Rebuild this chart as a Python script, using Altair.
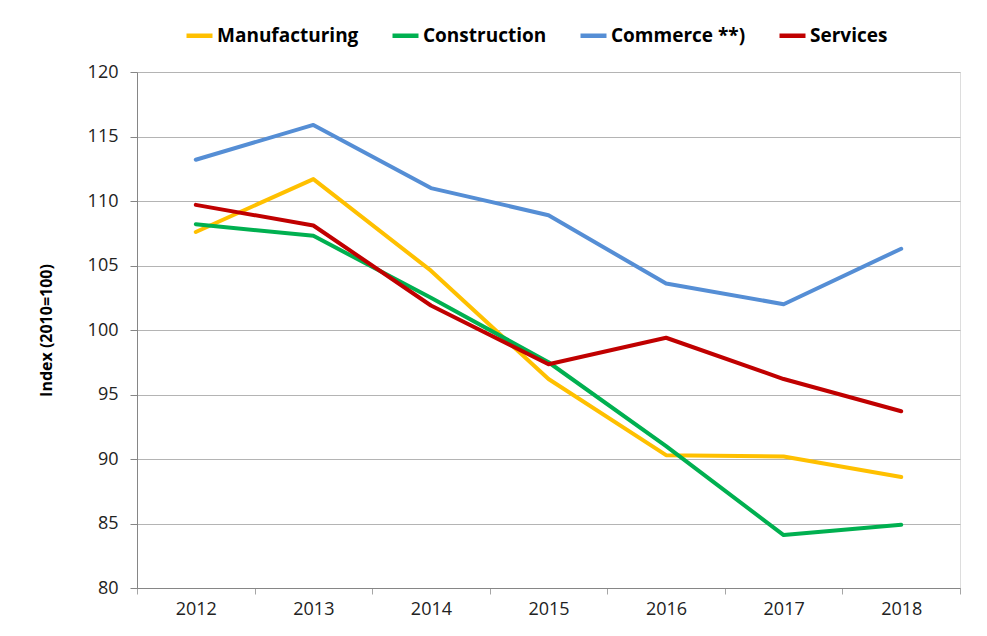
import altair as alt
import pandas as pd

years = ["2012", "2013", "2014", "2015", "2016", "2017", "2018"]
series_names = ["Manufacturing", "Construction", "Commerce **)", "Services"]
manufacturing = [107.6, 111.7, 104.6, 96.2, 90.3, 90.2, 88.6]
construction = [108.2, 107.3, 102.5, 97.5, 91.0, 84.1, 84.9]
commerce = [113.2, 115.9, 111.0, 108.9, 103.6, 102.0, 106.3]
services = [109.7, 108.1, 101.9, 97.35, 99.4, 96.2, 93.7]
colors = ["#FFC000", "#00B050", "#558ED5", "#C00000"]
y_ticks = [80, 85, 90, 95, 100, 105, 110, 115, 120]

rows = []
for name, vals in zip(series_names, [manufacturing, construction, commerce, services]):
    for i, (yr, v) in enumerate(zip(years, vals)):
        rows.append({"year": yr, "series": name, "value": v, "order": series_names.index(name)})
df = pd.DataFrame(rows)

chart = alt.Chart(df).mark_line(strokeWidth=4, strokeCap="round", strokeJoin="round").encode(
    x=alt.X("year:N", sort=years, title=None,
            scale=alt.Scale(paddingInner=0, paddingOuter=0),
            axis=alt.Axis(labelAngle=0, tickBand="extent", labelFontSize=18, labelFont="Open Sans",
                          labelColor="#222222", tickSize=6, tickColor="#A6A6A6", domainColor="#868686",
                          labelPadding=6, grid=False)),
    y=alt.Y("value:Q", title="Index (2010=100)",
            scale=alt.Scale(domain=[80, 120], nice=False, zero=False),
            axis=alt.Axis(values=y_ticks, labelFontSize=18, labelFont="Open Sans", labelColor="#222222",
                          tickSize=7, tickColor="#868686", domainColor="#868686", labelPadding=12,
                          gridColor="#B4B4B4", gridWidth=1.2,
                          titleFont="Open Sans", titleFontSize=16, titleFontWeight="bold",
                          titleColor="#000000", titlePadding=33)),
    color=alt.Color("series:N", sort=series_names,
                    scale=alt.Scale(domain=series_names, range=colors),
                    legend=alt.Legend(title=None, orient="none", direction="horizontal",
                                      legendX=47, legendY=-52, symbolType="stroke",
                                      symbolSize=676, symbolStrokeWidth=4.5,
                                      labelFont="Open Sans", labelFontSize=19, labelFontWeight="bold",
                                      labelColor="#000000", labelOffset=2, columnPadding=24,
                                      labelLimit=300)),
    order=alt.Order("order:Q"),
).properties(
    width=823, height=516,
    autosize=alt.AutoSizeParams(type="none"),
    padding={"left": 129, "top": 64, "right": 16, "bottom": 40},
).configure_view(stroke=None).configure(background="white")

chart.save("out.html", embed_options={"renderer": "svg", "actions": False})
